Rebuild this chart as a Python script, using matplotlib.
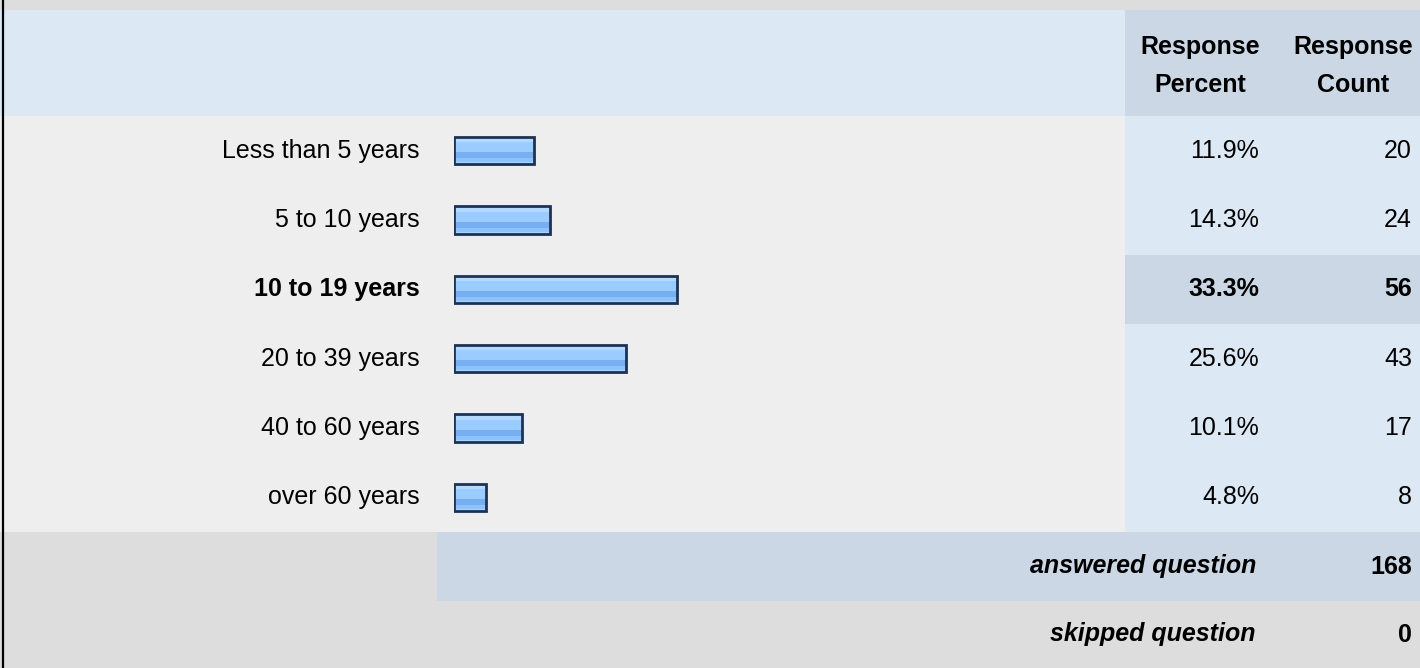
import matplotlib
matplotlib.use("Agg")
import matplotlib.pyplot as plt
import numpy as np
from matplotlib.patches import Rectangle
from matplotlib.colors import to_rgb

plt.rcParams['font.family'] = ['Liberation Sans', 'DejaVu Sans']

# ---- data ----
categories = ["Less than 5 years", "5 to 10 years", "10 to 19 years",
              "20 to 39 years", "40 to 60 years", "over 60 years"]
percents = [11.9, 14.3, 33.3, 25.6, 10.1, 4.8]
counts = [20, 24, 56, 43, 17, 8]
highlight = "10 to 19 years"
answered = 168
skipped = 0
col_headers = ["Response\nPercent", "Response\nCount"]

# ---- layout (pixels) ----
W, H = 1420, 668
fig = plt.figure(figsize=(W / 100, H / 100), dpi=100)
bg = fig.add_axes([0, 0, 1, 1])
bg.set_xlim(0, W)
bg.set_ylim(H, 0)
bg.axis('off')

C_TOP = '#dddddd'
C_HEAD = '#dde8f5'
C_DARK = '#cbd7e5'
C_ROW = '#eeeeee'

top_h = 10
head_bot = 116
rows_bot = 532
ans_bot = 601
col_left = 1125
n = len(categories)
row_h = (rows_bot - head_bot) / n

def rect(x0, y0, x1, y1, c):
    bg.add_patch(Rectangle((x0, y0), x1 - x0, y1 - y0, facecolor=c, edgecolor='none', zorder=0))

rect(0, 0, W, top_h, C_TOP)
rect(0, top_h, W, head_bot, C_HEAD)
rect(col_left, top_h, W, head_bot, C_DARK)
rect(0, head_bot, W, rows_bot, C_ROW)
rect(col_left, head_bot, W, rows_bot, C_HEAD)
rect(0, rows_bot, W, H, C_TOP)
rect(437, rows_bot, W, ans_bot, C_DARK)
bg.plot([3, 3], [0, H], color='black', lw=1.6, solid_capstyle='butt', zorder=5)

fs = 18
pct_x = 1259
cnt_x = 1412
bg.text(1200, 66, col_headers[0], ha='center', va='center', fontsize=fs,
        fontweight='bold', linespacing=1.72)
bg.text(1353, 66, col_headers[1], ha='center', va='center', fontsize=fs,
        fontweight='bold', linespacing=1.72)

for i, (cat, p, c) in enumerate(zip(categories, percents, counts)):
    yc = head_bot + row_h * (i + 0.5)
    y0 = head_bot + row_h * i
    w = 'bold' if cat == highlight else 'normal'
    if cat == highlight:
        rect(col_left, y0, W, y0 + row_h, C_DARK)
    bg.text(420, yc, cat, ha='right', va='center', fontsize=fs, fontweight=w)
    bg.text(pct_x, yc, f"{p:.1f}%", ha='right', va='center', fontsize=fs, fontweight=w)
    bg.text(cnt_x, yc, f"{c}", ha='right', va='center', fontsize=fs, fontweight=w)

ya = (rows_bot + ans_bot) / 2
ys = (ans_bot + H) / 2
bg.text(1256, ya, "answered question", ha='right', va='center', fontsize=fs,
        fontweight='bold', style='italic')
bg.text(cnt_x, ya, f"{answered}", ha='right', va='center', fontsize=fs, fontweight='bold')
bg.text(1256, ys, "skipped question", ha='right', va='center', fontsize=fs,
        fontweight='bold', style='italic')
bg.text(cnt_x, ys, f"{skipped}", ha='right', va='center', fontsize=fs, fontweight='bold')

# ---- bar axes ----
ax_left = 454
ax_w = 670
bx = fig.add_axes([ax_left / W, (H - rows_bot) / H, ax_w / W, (rows_bot - head_bot) / H])
bx.axis('off')
bx.patch.set_alpha(0)
ypos = np.arange(n)
bar_h = 0.39
bars = bx.barh(ypos, percents, height=bar_h, facecolor='none',
               edgecolor='#1c3353', linewidth=2.0, zorder=3)

grad_cols = (['#d2e9ff'] * 2 + ['#b4d9ff'] * 3 + ['#9accff'] * 9 +
             ['#78aff0'] * 5 + ['#8cc3ff'] * 3 + ['#a6d3ff'] * 2)
grad = np.array([to_rgb(c) for c in grad_cols]).reshape(-1, 1, 3)
for b in bars:
    x0, y0 = b.get_x(), b.get_y()
    bw, bh = b.get_width(), b.get_height()
    im = bx.imshow(grad, extent=(x0, x0 + bw, y0 + bh, y0), origin='upper',
                   aspect='auto', interpolation='nearest', zorder=2)
    im.set_clip_path(b)

bx.set_xlim(0, 100)
bx.set_ylim(n - 0.5, -0.5)

fig.savefig("out.png", dpi=100)
